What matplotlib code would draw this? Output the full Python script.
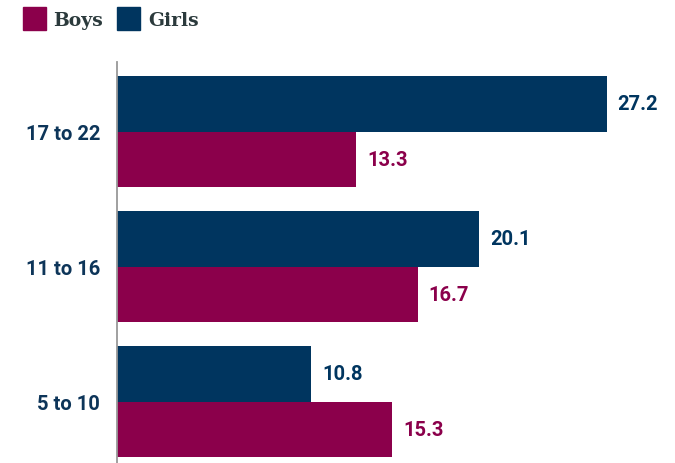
import numpy as np
import matplotlib.pyplot as plt
from matplotlib.patches import Rectangle

# Data
age_groups = ["5 to 10", "11 to 16", "17 to 22"]
boys = [15.3, 16.7, 13.3]
girls = [10.8, 20.1, 27.2]

boys_color = "#8B004B"
girls_color = "#00355F"

fig = plt.figure(figsize=(6.75, 4.64), dpi=100)
ax = fig.add_axes([117 / 675, 0.0, 558 / 675, (464 - 63) / 464])

y = np.arange(len(age_groups))
h = 0.41
ax.barh(y + h / 2, girls, height=h, color=girls_color)
ax.barh(y - h / 2, boys, height=h, color=boys_color)

for yi, v in zip(y, girls):
    ax.annotate(f"{v:.1f}", (v, yi + h / 2), xytext=(8, 0), textcoords="offset points",
                va="center", ha="left", fontsize=14.5, fontweight="bold",
                color=girls_color, family="Roboto")
for yi, v in zip(y, boys):
    ax.annotate(f"{v:.1f}", (v, yi - h / 2), xytext=(8, 0), textcoords="offset points",
                va="center", ha="left", fontsize=14.5, fontweight="bold",
                color=boys_color, family="Roboto")

ax.set_xlim(0, 31)
ax.set_ylim(-0.455, 2.516)
ax.set_yticks(y)
ax.set_yticklabels(age_groups, fontsize=14.5, fontweight="bold", color="#0D3559", family="Roboto")
ax.tick_params(axis="y", length=0, pad=12)
ax.set_xticks([])
for s in ["top", "right", "bottom"]:
    ax.spines[s].set_visible(False)
ax.spines["left"].set_color("#999999")
ax.spines["left"].set_linewidth(1.3)

# legend drawn manually
fig.patches.append(Rectangle((23 / 675, 1 - 31 / 464), 23 / 675, 23 / 464,
                             transform=fig.transFigure, color=boys_color))
fig.text(53 / 675, 1 - 21 / 464, "Boys", fontsize=13.5, fontweight="bold",
         color="#2B3A3C", family="DejaVu Serif", va="center")
fig.patches.append(Rectangle((117 / 675, 1 - 31 / 464), 23 / 675, 23 / 464,
                             transform=fig.transFigure, color=girls_color))
fig.text(148 / 675, 1 - 21 / 464, "Girls", fontsize=13.5, fontweight="bold",
         color="#2B3A3C", family="DejaVu Serif", va="center")

fig.savefig("out.png", dpi=100)
